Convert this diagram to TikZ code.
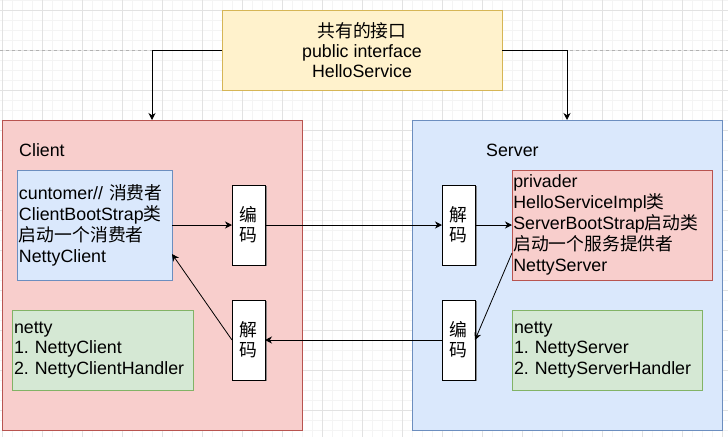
\documentclass[tikz,border=0pt]{standalone}
\usepackage{fontspec}
\setmainfont{Liberation Sans}
\newfontfamily\cjkfont{Noto Sans CJK SC}
\newcommand\zhtxt[1]{{\cjkfont #1}}
\usetikzlibrary{arrows.meta,calc,shadows}
\frenchspacing
\definecolor{redfill}{HTML}{F8CECC}
\definecolor{redline}{HTML}{B85450}
\definecolor{bluefill}{HTML}{DAE8FC}
\definecolor{blueline}{HTML}{6C8EBF}
\definecolor{greenfill}{HTML}{D5E8D4}
\definecolor{greenline}{HTML}{82B366}
\definecolor{yellowfill}{HTML}{FFF2CC}
\definecolor{yellowline}{HTML}{D6B656}
\definecolor{gridminor}{HTML}{F4F4F4}
\definecolor{gridmajor}{HTML}{E2E2E2}
\tikzset{
  box/.style={rectangle, draw, line width=1pt, outer sep=0pt, inner sep=0pt},
  txt/.style={font=\fontsize{17.8}{21}\selectfont, text=black},
  codec/.style={box, draw=black, fill=white, minimum width=33, minimum height=80,
    align=center, font=\cjkfont\fontsize{17.8}{20}\selectfont,
    drop shadow={shadow xshift=1.6pt, shadow yshift=-1.2pt, fill=black!55, opacity=0.8}},
  arr/.style={-{Stealth[length=7pt,width=7pt,inset=2.2pt]}, line width=1pt, black},
}
\begin{document}
\begin{tikzpicture}[x=1pt,y=-1pt]
\useasboundingbox (0,0) rectangle (728,437);
\fill[white] (0,0) rectangle (728,437);
% grid
\foreach \i in {0,...,72} \draw[gridminor, line width=0.8pt] (2.5+10*\i,0) -- (2.5+10*\i,437);
\foreach \i in {0,...,43} \draw[gridminor, line width=0.8pt] (0,10*\i) -- (728,10*\i);
\foreach \i in {0,...,18} \draw[gridmajor, line width=1pt] (2.5+40*\i,0) -- (2.5+40*\i,437);
\foreach \i in {0,...,10} \draw[gridmajor, line width=1pt] (0,10+40*\i) -- (728,10+40*\i);
\draw[black!30, line width=1pt, dash pattern=on 3pt off 3pt] (0,50) -- (728,50);

% top interface box
\node[box, txt, draw=yellowline, fill=yellowfill, minimum width=280, minimum height=80,
  align=center, font=\fontsize{17.8}{20}\selectfont] (top) at (362,50)
  {\zhtxt{共有的接口}\\public interface\\HelloService};

% client and server containers
\node[box, draw=redline, fill=redfill, minimum width=300, minimum height=310] (cl) at (152,275) {};
\node[box, draw=blueline, fill=bluefill, minimum width=310, minimum height=310] (sv) at (567,275) {};
\node[txt, anchor=base west, inner sep=0pt] (cltitle) at (19,156) {Client};
\node[txt, anchor=base west, inner sep=0pt] (svtitle) at (486,156) {Server};

% client inner boxes
\node[box, txt, draw=blueline, fill=bluefill, minimum height=110, inner xsep=2pt,
  text width=151pt, align=left] (cust) at (94.5,225)
  {cuntomer// \zhtxt{消费者}\\ClientBootStrap\zhtxt{类}\\\zhtxt{启动一个消费者}\\NettyClient};
\node[box, txt, draw=greenline, fill=greenfill, minimum height=80, inner xsep=2pt,
  text width=177pt, align=left, font=\fontsize{17.8}{20.5}\selectfont] (cnet) at (102.5,350)
  {netty\\1. NettyClient\\2. NettyClientHandler};
\node[codec] (cenc) at (248.5,225) {编\\码};
\node[codec] (cdec) at (248.5,340) {解\\码};

% server inner boxes
\node[box, txt, draw=redline, fill=redfill, minimum height=110, inner xsep=1.3pt,
  text width=197.4pt, align=left] (prov) at (612,225)
  {privader\\HelloServiceImpl\zhtxt{类}\\ServerBootStrap\zhtxt{启动类}\\\zhtxt{启动一个服务提供者}\\NettyServer};
\node[box, txt, draw=greenline, fill=greenfill, minimum height=80, inner xsep=2pt,
  text width=186pt, align=left, font=\fontsize{17.8}{20.5}\selectfont] (snet) at (607,350)
  {netty\\1. NettyServer\\2. NettyServerHandler};
\node[codec] (sdec) at (458.5,225) {解\\码};
\node[codec] (senc) at (458.5,340) {编\\码};

% connectors
\draw[arr] (top.west) -| (cl.north);
\draw[arr] (top.east) -| (sv.north);
\draw[arr] (cust.east) -- (cenc.west);
\draw[arr] (cenc.east) -- (sdec.west);
\draw[arr] (sdec.east) -- (prov.west);
\draw[arr, line width=0.8pt] ($(prov.west)+(0,28)$) -- (senc.east);
\draw[arr] (senc.west) -- (cdec.east);
\draw[arr, line width=0.8pt] (cdec.west) -- ($(cust.east)+(0,29)$);
\end{tikzpicture}
\end{document}
